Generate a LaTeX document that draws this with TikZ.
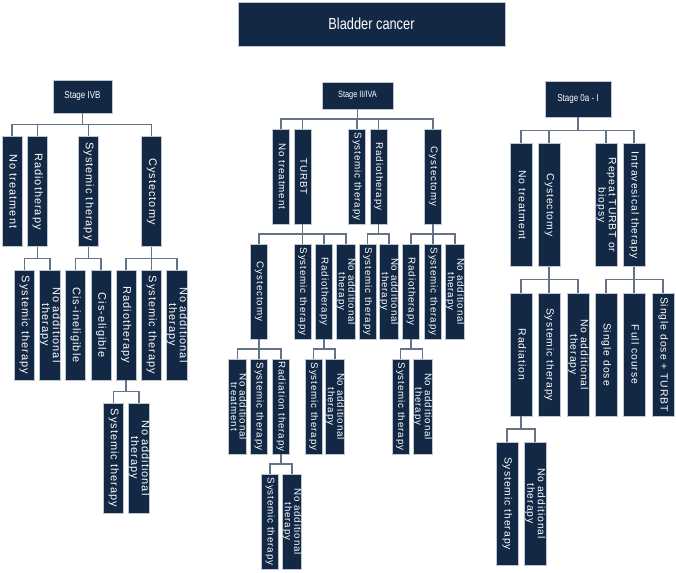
\documentclass[tikz,border=0pt]{standalone}
\usepackage{fontspec}
\setmainfont{Liberation Sans}
\newfontfamily\boxfont[LetterSpace=9]{Liberation Sans}
\newfontfamily\headfont[FakeStretch=0.8]{Liberation Sans}
\usetikzlibrary{calc}
\definecolor{navy}{RGB}{18,40,68}
\definecolor{rimgray}{RGB}{190,198,208}
\definecolor{linkgray}{RGB}{100,115,135}
% rotated (top-to-bottom) box label, centred lines
\newcommand{\vlab}[1]{\rotatebox{-90}{\begin{tabular}{@{}c@{}}#1\end{tabular}}}
\tikzset{
  % dark boxes
  navybox/.style={draw=rimgray, line width=0.7pt, fill=navy, text=white, inner sep=0pt},
  titlebox/.style={navybox, minimum width=267pt, minimum height=44pt,
    font=\headfont\fontsize{16}{18}\selectfont},
  stagebox/.style={navybox, font=\headfont\fontsize{10}{12}\selectfont},
  % treatment boxes of the three trees
  lbox/.style={navybox, minimum width=20pt, minimum height=110pt,
    font=\boxfont\fontsize{11}{9.4}\selectfont},
  mbox/.style={navybox, minimum width=17pt, minimum height=95pt,
    font=\boxfont\fontsize{9.8}{8.2}\selectfont},
  rbox/.style={navybox, minimum width=22pt, minimum height=123pt,
    font=\boxfont\fontsize{10.4}{9.2}\selectfont},
  % tree connectors
  link/.style={draw=linkgray, line width=1.3pt},
  elbow/.style={to path={(\tikztostart) |- ($(\tikztostart)!0.5!(\tikztotarget)$) -| (\tikztotarget)}},
}
\begin{document}
\begin{tikzpicture}[x=1pt, y=-1pt]
  \useasboundingbox (0,0) rectangle (676,572);
  \node[titlebox] (title) at (371.5,24) {Bladder cancer};
  % --- Stage IVB ---
  \node[stagebox, minimum width=59pt, minimum height=33pt] (ivb) at (82.5,96.5) {Stage IVB};
  \node[lbox] (ivb-none) at (12,191.5) {\vlab{No treatment}};
  \node[lbox] (ivb-rt) at (37.5,191.5) {\vlab{Radiotherapy}};
  \node[lbox] (ivb-sys) at (88.5,191.5) {\vlab{Systemic therapy}};
  \node[lbox] (ivb-cx) at (151.5,191.5) {\vlab{Cystectomy}};
  \node[lbox] (ivb-rt-sys) at (24.5,325) {\vlab{Systemic therapy}};
  \node[lbox] (ivb-rt-noadd) at (50,325) {\vlab{No additional\\therapy}};
  \node[lbox] (ivb-cis-in) at (75.5,325) {\vlab{Cis-ineligible}};
  \node[lbox] (ivb-cis-el) at (101,325) {\vlab{Cis-eligible}};
  \node[lbox] (ivb-cx-rt) at (126,325) {\vlab{Radiotherapy}};
  \node[lbox] (ivb-cx-sys) at (151.5,325) {\vlab{Systemic therapy}};
  \node[lbox] (ivb-cx-noadd) at (177,325) {\vlab{No additional\\therapy}};
  \node[lbox] (ivb-crt-sys) at (113.5,458) {\vlab{Systemic therapy}};
  \node[lbox] (ivb-crt-noadd) at (139,458) {\vlab{No additional\\therapy}};
  \foreach \c in {ivb-none,ivb-rt,ivb-sys,ivb-cx}
    \draw[link] (ivb.south) to[elbow] (\c.north);
  \foreach \p/\c in {ivb-rt/ivb-rt-sys, ivb-rt/ivb-rt-noadd, ivb-sys/ivb-cis-in, ivb-sys/ivb-cis-el,
      ivb-cx/ivb-cx-rt, ivb-cx/ivb-cx-sys, ivb-cx/ivb-cx-noadd,
      ivb-cx-rt/ivb-crt-sys, ivb-cx-rt/ivb-crt-noadd}
    \draw[link] (\p.south) to[elbow] (\c.north);
  % --- Stage II/IVA ---
  \node[stagebox, minimum width=71pt, minimum height=27pt, font=\headfont\fontsize{9.2}{11}\selectfont]
    (ii) at (357.5,95.5) {Stage II/IVA};
  \node[mbox] (ii-none) at (281,176.5) {\vlab{No treatment}};
  \node[mbox] (ii-turbt) at (302.5,176.5) {\vlab{TURBT}};
  \node[mbox] (ii-sys) at (357,176.5) {\vlab{Systemic therapy}};
  \node[mbox] (ii-rt) at (378.5,176.5) {\vlab{Radiotherapy}};
  \node[mbox] (ii-cx) at (433,176.5) {\vlab{Cystectomy}};
  \node[mbox] (ii-turbt-cx) at (259,291.5) {\vlab{Cystectomy}};
  \node[mbox] (ii-turbt-sys) at (302.5,291.5) {\vlab{Systemic therapy}};
  \node[mbox] (ii-turbt-rt) at (324,291.5) {\vlab{Radiotherapy}};
  \node[mbox] (ii-turbt-noadd) at (346,291.5) {\vlab{No additional\\therapy}};
  \node[mbox] (ii-rt-sys) at (367.5,291.5) {\vlab{Systemic therapy}};
  \node[mbox] (ii-rt-noadd) at (389,291.5) {\vlab{No additional\\therapy}};
  \node[mbox] (ii-cx-rt) at (411,291.5) {\vlab{Radiotherapy}};
  \node[mbox] (ii-cx-sys) at (433,291.5) {\vlab{Systemic therapy}};
  \node[mbox] (ii-cx-noadd) at (455,291.5) {\vlab{No additional\\therapy}};
  \node[mbox] (ii-tcx-noadd) at (237.5,406.5) {\vlab{No additional\\treatment}};
  \node[mbox] (ii-tcx-sys) at (259,406.5) {\vlab{Systemic therapy}};
  \node[mbox] (ii-tcx-rad) at (281,406.5) {\vlab{Radiation therapy}};
  \node[mbox] (ii-trt-sys) at (313.5,406.5) {\vlab{Systemic therapy}};
  \node[mbox] (ii-trt-noadd) at (335,406.5) {\vlab{No additional\\therapy}};
  \node[mbox] (ii-crt-sys) at (400.5,406.5) {\vlab{Systemic therapy}};
  \node[mbox] (ii-crt-noadd) at (422.5,406.5) {\vlab{No additional\\therapy}};
  \node[mbox] (ii-rad-sys) at (270,521.5) {\vlab{Systemic therapy}};
  \node[mbox] (ii-rad-noadd) at (292,521.5) {\vlab{No additional\\therapy}};
  \foreach \c in {ii-none,ii-turbt,ii-sys,ii-rt,ii-cx}
    \draw[link] (ii.south) to[elbow] (\c.north);
  \foreach \p/\c in {ii-turbt/ii-turbt-cx, ii-turbt/ii-turbt-sys, ii-turbt/ii-turbt-rt, ii-turbt/ii-turbt-noadd,
      ii-rt/ii-rt-sys, ii-rt/ii-rt-noadd, ii-cx/ii-cx-rt, ii-cx/ii-cx-sys, ii-cx/ii-cx-noadd,
      ii-turbt-cx/ii-tcx-noadd, ii-turbt-cx/ii-tcx-sys, ii-turbt-cx/ii-tcx-rad,
      ii-turbt-rt/ii-trt-sys, ii-turbt-rt/ii-trt-noadd, ii-cx-rt/ii-crt-sys, ii-cx-rt/ii-crt-noadd,
      ii-tcx-rad/ii-rad-sys, ii-tcx-rad/ii-rad-noadd}
    \draw[link] (\p.south) to[elbow] (\c.north);
  % --- Stage 0a - I ---
  \node[stagebox, minimum width=66pt, minimum height=36pt] (oa) at (578,99) {Stage 0a - I};
  \node[rbox] (oa-none) at (521,205) {\vlab{No treatment}};
  \node[rbox] (oa-cx) at (549,205) {\vlab{Cystectomy}};
  \node[rbox] (oa-rep) at (606,205) {\vlab{Repeat TURBT or\\biopsy}};
  \node[rbox] (oa-ives) at (634,205) {\vlab{Intravesical therapy}};
  \node[rbox] (oa-cx-rad) at (521,354.5) {\vlab{Radiation}};
  \node[rbox] (oa-cx-sys) at (549,354.5) {\vlab{Systemic therapy}};
  \node[rbox] (oa-cx-noadd) at (578,354.5) {\vlab{No additional\\therapy}};
  \node[rbox] (oa-single) at (606,354.5) {\vlab{Single dose}};
  \node[rbox] (oa-full) at (634,354.5) {\vlab{Full course}};
  \node[rbox] (oa-turbt) at (663,354.5) {\vlab{Single dose + TURBT}};
  \node[rbox] (oa-rad-sys) at (507,503.5) {\vlab{Systemic therapy}};
  \node[rbox] (oa-rad-noadd) at (535,503.5) {\vlab{No additional\\therapy}};
  \foreach \c in {oa-none,oa-cx,oa-rep,oa-ives}
    \draw[link] (oa.south) to[elbow] (\c.north);
  \foreach \p/\c in {oa-cx/oa-cx-rad, oa-cx/oa-cx-sys, oa-cx/oa-cx-noadd,
      oa-ives/oa-single, oa-ives/oa-full, oa-ives/oa-turbt,
      oa-cx-rad/oa-rad-sys, oa-cx-rad/oa-rad-noadd}
    \draw[link] (\p.south) to[elbow] (\c.north);
\end{tikzpicture}
\end{document}
